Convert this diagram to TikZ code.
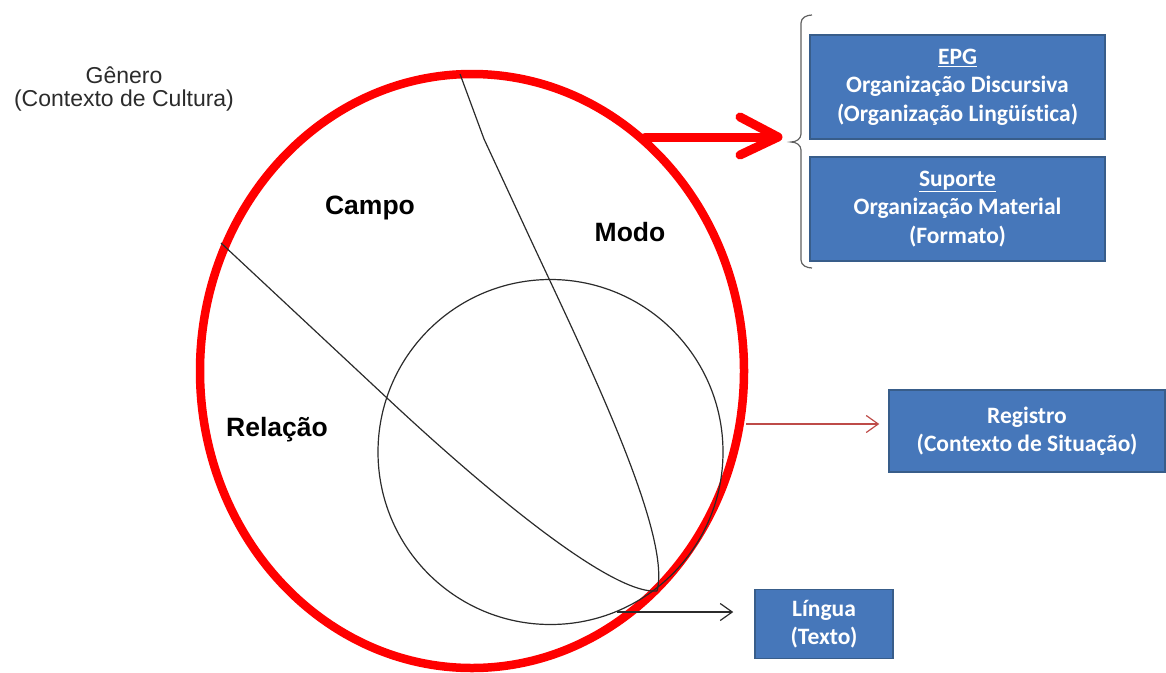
\documentclass[tikz,border=0pt]{standalone}
\usepackage{fontspec}
\setmainfont{Liberation Sans}
\newfontfamily\boxfont{Carlito}[Ligatures=NoCommon]
\usetikzlibrary{shapes.geometric,arrows.meta}

\definecolor{boxblue}{HTML}{4677BA}
\definecolor{boxedge}{HTML}{385D8A}
\definecolor{linkred}{HTML}{BE4B48}
\definecolor{inkgray}{HTML}{2B2B2B}
\definecolor{bracegray}{HTML}{606060}

\begin{document}
\begin{tikzpicture}[x=1pt,y=-1pt,
  bluebox/.style={draw=boxedge, line width=1.5pt, fill=boxblue, text=white,
    align=center, inner sep=0pt,
    font=\boxfont\bfseries\fontsize{23.5}{28.5}\selectfont},
  region/.style={font=\bfseries\fontsize{26.5}{30}\selectfont, text=black, anchor=base},
  divider/.style={draw=inkgray, line width=1.2pt},
  openhead/.style={-{Straight Barb[length=12pt,width=17pt]}},
]
\useasboundingbox (0,0) rectangle (1166,672);

% culture (genre) and situation (register) contexts
\node[draw=red, line width=8.5pt, ellipse, minimum width=544pt,
      minimum height=594pt, inner sep=0pt] (genero) at (472,371) {};
\node[divider, circle, minimum size=345pt, inner sep=0pt] (situacao) at (550.5,452) {};

% dividing lines between field, tenor and mode
\draw[divider] (460,74) -- (484,139) -- (529,236)
  .. controls (579.5,344.8) and (672.6,532.8) .. (657,591);
\draw[divider] (221,243) -- (387,398)
  .. controls (480,485) and (610,595) .. (657,591);

% region labels
\node[region] (campo) at (370,214) {Campo};
\node[region] (modo) at (630,241) {Modo};
\node[region] (relacao) at (277,436) {Relação};

\node[font=\fontsize{23}{22.6}\selectfont, align=center, text=inkgray]
  (cultura) at (124,89) {Gênero\\(Contexto de Cultura)};

% boxes on the right
\node[bluebox, minimum width=295pt, minimum height=104pt] (epg) at (957.5,87)
  {\underline{EPG}\\Organização Discursiva\\(Organização Lingüística)};
\node[bluebox, minimum width=295pt, minimum height=104pt] (suporte) at (957.5,209)
  {\underline{Suporte}\\Organização Material\\(Formato)};
\node[bluebox, minimum width=276pt, minimum height=82pt] (registro) at (1027,431)
  {Registro\\(Contexto de Situação)};
\node[bluebox, minimum width=138pt, minimum height=69pt] (lingua) at (824,624)
  {Língua\\(Texto)};

% brace grouping EPG and Suporte
\draw[bracegray, line width=1.2pt] (812,15) to[out=180,in=90] (801,23) -- (801,134)
  to[out=-90,in=0] (791,142) to[out=0,in=90] (801,150) -- (801,260)
  to[out=-90,in=180] (812,268);

% thick red arrow from the genre ellipse to the brace
\coordinate (gout) at (645,137);
\coordinate (gtip) at (778,137);
\draw[red, line width=9pt, line cap=round] (gout) -- ([xshift=-8pt]gtip);
\draw[red, line width=9pt, line cap=round, line join=round]
  ([shift={(-38,-20)}]gtip) -- (gtip) -- ([shift={(-38,18)}]gtip);

% thin arrows to Registro and Língua
\coordinate (regin) at (746,424);
\draw[linkred, line width=1.2pt, openhead, shorten >=9pt] (regin) -- (regin -| registro.west);
\coordinate (lgin) at (617,612);
\draw[inkgray, line width=1.2pt, openhead, shorten >=21pt] (lgin) -- (lgin -| lingua.west);
\end{tikzpicture}
\end{document}
